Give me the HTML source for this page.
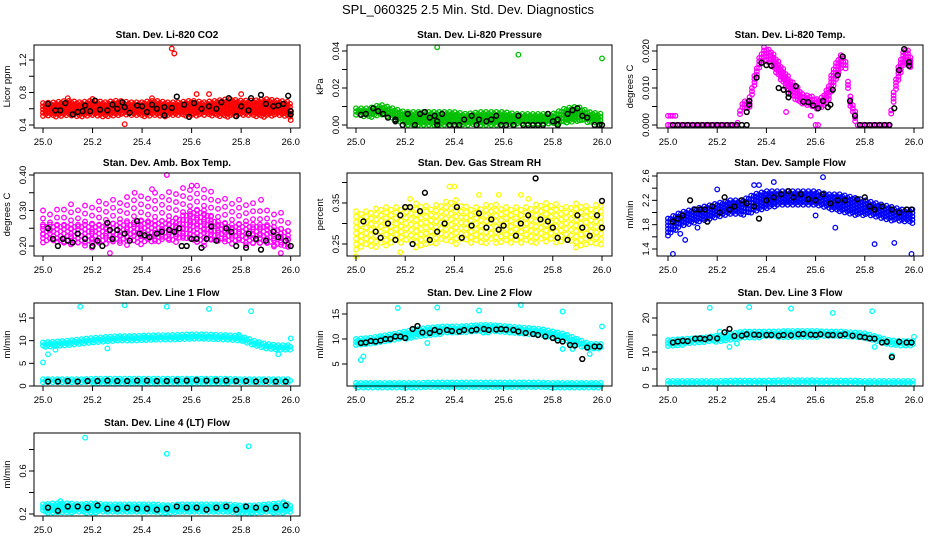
<!DOCTYPE html>
<html><head><meta charset="utf-8">
<style>
html,body{margin:0;padding:0;background:#fff;}
svg{display:block;font-family:"Liberation Sans",sans-serif;}
</style></head>
<body>
<svg id="chart" width="936" height="540" viewBox="0 0 936 540" xmlns="http://www.w3.org/2000/svg">
<rect width="936" height="540" fill="#fff"/>
<text x="468" y="14" text-anchor="middle" font-size="13">SPL_060325  2.5 Min. Std. Dev. Diagnostics</text>
</svg>
<script>
const bandT=[25.00,25.05,25.10,25.15,25.20,25.25,25.30,25.35,25.40,25.45,25.50,25.55,25.60,25.65,25.70,25.75,25.80,25.85,25.90,25.95,26.00];
const xTicks=[25.0,25.2,25.4,25.6,25.8,26.0];
const xTickLabels=["25.0","25.2","25.4","25.6","25.8","26.0"];

// CO2
const co2Lo=[0.5,0.5,0.52,0.5,0.52,0.5,0.52,0.52,0.5,0.52,0.5,0.52,0.5,0.52,0.5,0.5,0.52,0.5,0.5,0.52,0.48];
const co2Hi=[0.67,0.68,0.7,0.68,0.7,0.68,0.7,0.68,0.68,0.7,0.68,0.68,0.7,0.68,0.7,0.72,0.7,0.7,0.72,0.7,0.68];
const co2OutT=[25.52,25.53,25.33,26.0,25.62,25.67,25.8,25.1,25.2,25.44];
const co2OutV=[1.34,1.28,0.41,0.46,0.78,0.78,0.78,0.73,0.72,0.73];
const co2BlkT=[25.02,25.05,25.07,25.09,25.12,25.14,25.16,25.17,25.19,25.21,25.23,25.26,25.28,25.30,25.32,25.33,25.35,25.38,25.40,25.42,25.44,25.46,25.49,25.49,25.52,25.54,25.57,25.59,25.61,25.64,25.67,25.70,25.72,25.75,25.78,25.80,25.83,25.84,25.88,25.90,25.93,25.95,25.97,25.99,26.0,26.0];
const co2BlkV=[0.66,0.58,0.58,0.67,0.53,0.56,0.57,0.64,0.57,0.70,0.59,0.58,0.65,0.60,0.68,0.62,0.55,0.64,0.63,0.56,0.65,0.6,0.52,0.62,0.61,0.75,0.65,0.5,0.67,0.6,0.63,0.6,0.68,0.73,0.51,0.63,0.58,0.73,0.77,0.66,0.63,0.64,0.66,0.76,0.57,0.53];

// Pressure
const prLo=[0.005,0.004,0.005,0.003,0,0,0,0,0,0,0,0,0,0,0,0,0,0.001,0.002,0.001,0];
const prHi=[0.009,0.009,0.011,0.009,0.007,0.007,0.007,0.007,0.007,0.006,0.007,0.007,0.007,0.006,0.006,0.006,0.006,0.009,0.01,0.007,0.006];
const prOutT=[25.33,25.66,26.0];
const prOutV=[0.042,0.038,0.036];
const prBlkT=[25.02,25.04,25.07,25.09,25.11,25.13,25.16,25.16,25.19,25.21,25.24,25.26,25.28,25.30,25.32,25.33,25.33,25.35,25.38,25.40,25.42,25.44,25.47,25.49,25.50,25.53,25.55,25.57,25.59,25.61,25.64,25.66,25.68,25.70,25.72,25.74,25.76,25.78,25.80,25.82,25.82,25.86,25.88,25.90,25.92,25.94,25.97,25.99,26.0];
const prBlkV=[0.0055,0.006,0.009,0.0075,0.006,0.004,0.002,0.003,0,0.006,0,0.006,0.007,0.004,0.005,0.002,0,0.006,0,0,0,0.003,0.005,0,0.003,0.002,0.003,0.005,0,0,0,0.005,0,0,0,0,0,0.006,0.002,0.003,0,0.006,0.008,0.009,0.005,0.004,0,0,0];

// Li-820 Temp
const tmpBandT=[25.0,25.28,25.30,25.33,25.35,25.37,25.39,25.42,25.45,25.48,25.50,25.53,25.55,25.58,25.60,25.62,25.65,25.67,25.70,25.72,25.74,25.76,25.77,25.90,25.91,25.93,25.95,25.97,25.99];
const tmpLo=[0,0,0.004,0.004,0.01,0.015,0.018,0.016,0.013,0.01,0.008,0.006,0.005,0.005,0.004,0.004,0.006,0.01,0.015,0.016,0.005,0.001,0,0,0.004,0.01,0.015,0.017,0.015];
const tmpHi=[0,0,0.006,0.007,0.013,0.018,0.021,0.02,0.017,0.014,0.012,0.01,0.008,0.008,0.007,0.007,0.01,0.015,0.019,0.018,0.008,0.004,0,0,0.006,0.014,0.019,0.021,0.018];
const tmpOutT=[25.0,25.01,25.02,25.03,25.48,25.58,25.6,25.61];
const tmpOutV=[0.0025,0.0025,0.0025,0.0025,0.0035,0.0025,0,0];
const tmpBlkT=[25.02,25.04,25.06,25.08,25.10,25.12,25.14,25.16,25.18,25.20,25.22,25.24,25.26,25.28,25.30,25.32,25.32,25.33,25.33,25.36,25.38,25.40,25.42,25.45,25.47,25.49,25.49,25.52,25.55,25.57,25.59,25.61,25.63,25.65,25.66,25.67,25.69,25.71,25.74,25.76,25.78,25.80,25.82,25.84,25.86,25.88,25.90,25.92,25.94,25.96,25.98,25.98];
const tmpBlkV=[0,0,0,0,0,0,0,0,0,0,0,0,0,0,0,0,0.0035,0.0055,0.0065,0.0128,0.0168,0.0162,0.016,0.01,0.0095,0.0085,0.0075,0.0105,0.0063,0.0062,0.0053,0.0045,0.0065,0.0048,0.0055,0.0095,0.0135,0.0185,0.0065,0.0025,0,0,0,0,0,0,0,0.0045,0.0148,0.0205,0.017,0.016];

// Amb box temp: dense core + sparse envelope
const ambCoreLo=[0.21,0.21,0.205,0.205,0.205,0.21,0.21,0.21,0.21,0.21,0.215,0.215,0.21,0.21,0.21,0.21,0.21,0.205,0.205,0.2,0.2];
const ambCoreHi=[0.26,0.26,0.26,0.26,0.26,0.26,0.265,0.265,0.27,0.27,0.27,0.28,0.3,0.3,0.27,0.26,0.26,0.26,0.26,0.25,0.24];
const ambLo=[0.2,0.2,0.19,0.19,0.19,0.2,0.2,0.2,0.2,0.2,0.21,0.21,0.2,0.2,0.2,0.2,0.2,0.19,0.19,0.18,0.19];
const ambHi=[0.3,0.3,0.32,0.31,0.32,0.33,0.33,0.34,0.34,0.35,0.35,0.36,0.37,0.37,0.34,0.33,0.33,0.32,0.3,0.3,0.27];
const ambOutT=[25.5,25.27,25.96,25.88,25.37,25.44,25.6];
const ambOutV=[0.40,0.18,0.18,0.33,0.35,0.36,0.37];
const ambBlkT=[25.02,25.04,25.06,25.08,25.10,25.12,25.14,25.17,25.20,25.22,25.24,25.26,25.27,25.28,25.30,25.33,25.35,25.38,25.39,25.41,25.43,25.46,25.48,25.51,25.53,25.55,25.56,25.58,25.60,25.62,25.64,25.66,25.68,25.70,25.74,25.76,25.78,25.82,25.83,25.86,25.88,25.90,25.93,25.95,25.98,26.0];
const ambBlkV=[0.25,0.22,0.2,0.22,0.215,0.21,0.235,0.22,0.2,0.215,0.2,0.265,0.245,0.22,0.245,0.235,0.215,0.27,0.235,0.23,0.225,0.235,0.24,0.245,0.24,0.25,0.2,0.2,0.22,0.22,0.195,0.22,0.255,0.215,0.25,0.24,0.2,0.195,0.235,0.22,0.19,0.215,0.24,0.225,0.215,0.2];

// Gas stream RH
const rhLo=[0.23,0.24,0.24,0.25,0.25,0.24,0.25,0.25,0.25,0.25,0.25,0.25,0.25,0.25,0.25,0.25,0.25,0.25,0.24,0.25,0.24];
const rhHi=[0.33,0.33,0.34,0.34,0.34,0.35,0.34,0.35,0.36,0.34,0.34,0.35,0.34,0.34,0.34,0.35,0.35,0.34,0.35,0.34,0.35];
const rhOutT=[25.0,25.18,25.38,25.40,25.5,25.58,25.67,25.7,25.22];
const rhOutV=[0.22,0.23,0.39,0.39,0.37,0.37,0.37,0.36,0.36];
const rhBlkT=[25.03,25.08,25.10,25.13,25.16,25.18,25.20,25.22,25.23,25.26,25.28,25.30,25.33,25.36,25.41,25.43,25.47,25.50,25.53,25.55,25.58,25.60,25.65,25.67,25.70,25.73,25.75,25.78,25.80,25.82,25.86,25.90,25.92,25.95,25.98,26.0,26.0];
const rhBlkV=[0.305,0.28,0.265,0.3,0.26,0.32,0.34,0.34,0.25,0.33,0.375,0.26,0.28,0.3,0.34,0.265,0.295,0.325,0.29,0.31,0.285,0.295,0.27,0.3,0.32,0.41,0.31,0.305,0.29,0.265,0.26,0.32,0.29,0.27,0.32,0.29,0.355];

// Sample flow
const sfLo=[1.6,1.75,1.8,1.85,1.9,1.95,1.95,2.0,2.05,2.1,2.1,2.1,2.1,2.05,2.0,1.95,1.95,1.9,1.85,1.85,1.8];
const sfHi=[1.9,2.0,2.05,2.1,2.15,2.2,2.2,2.3,2.35,2.35,2.35,2.35,2.35,2.3,2.3,2.25,2.2,2.15,2.1,2.05,2.05];
const sfOutT=[25.02,25.07,25.12,25.2,25.37,25.43,25.63,25.60,25.68,25.84,25.92,25.99,25.35,25.05];
const sfOutV=[1.32,1.55,1.75,2.38,2.45,2.5,2.58,1.95,1.75,1.48,1.5,1.32,2.45,1.65];
const sfBlkT=[25.02,25.04,25.06,25.09,25.11,25.13,25.15,25.16,25.18,25.21,25.23,25.25,25.27,25.30,25.32,25.35,25.37,25.40,25.43,25.46,25.49,25.51,25.54,25.57,25.60,25.63,25.66,25.69,25.72,25.77,25.80,25.82,25.84,25.87,25.91,25.94,25.97,25.99];
const sfBlkV=[1.85,1.9,1.95,2.2,2.05,2.05,2.05,1.85,2.1,2.0,2.25,2.05,2.1,2.2,2.15,2.1,1.9,2.2,2.25,2.3,2.35,2.25,2.3,2.22,2.2,2.3,2.15,2.2,2.2,2.22,2.25,2.1,2.05,2.1,2.05,2.0,2.05,2.05];

const lineBlkT=[25.02,25.06,25.10,25.14,25.18,25.22,25.26,25.30,25.34,25.38,25.42,25.46,25.50,25.54,25.58,25.62,25.66,25.70,25.74,25.78,25.82,25.86,25.90,25.94,25.98];

// Line 1
const l1Lo=[8.3,8.5,8.8,9,9.3,9.6,9.8,10,10.1,10.2,10.2,10.3,10.3,10.3,10.2,10.1,9.8,8.8,8.2,8.0,8.0];
const l1Hi=[9.6,9.8,10.0,10.3,10.6,10.8,11,11,11.1,11.2,11.2,11.3,11.4,11.4,11.3,11.2,11.0,10,9.3,9.0,9.0];
const l1LoB=[0.6,0.6,0.6,0.6,0.6,0.6,0.6,0.6,0.6,0.6,0.6,0.6,0.6,0.6,0.6,0.6,0.6,0.6,0.6,0.6,0.6];
const l1HiB=[1.5,1.5,1.5,1.5,1.6,1.6,1.6,1.6,1.6,1.6,1.6,1.6,1.6,1.6,1.6,1.6,1.5,1.5,1.5,1.5,1.5];
const l1OutT=[25.15,25.33,25.5,25.67,25.84,25.0,25.02,25.05,25.95,26.0,25.26,25.79];
const l1OutV=[17.5,17.8,17.5,17,16.5,5.2,7,8,7,10.5,8.3,11.3];
const l1BlkV=[1.0,1.0,1.1,1.0,1.1,1.1,1.2,1.1,1.1,1.2,1.2,1.1,1.1,1.2,1.2,1.3,1.2,1.2,1.2,1.1,1.1,1.0,1.1,1.0,1.0];

// Line 2
const l2Lo=[8.8,9,9.3,9.6,10,10.5,10.8,11,11.1,11.2,11.3,11.3,11.2,11.1,10.9,10.5,10.2,9.5,8.5,8,8];
const l2Hi=[10,10.2,10.6,11,11.5,12,12.3,12.5,12.5,12.6,12.8,12.8,12.6,12.4,12.2,12,11.5,11,10,9,9];
const l2LoB=[0.3,0.3,0.3,0.3,0.3,0.3,0.3,0.3,0.3,0.3,0.3,0.3,0.3,0.3,0.3,0.3,0.3,0.3,0.3,0.3,0.3];
const l2HiB=[1.2,1.2,1.2,1.2,1.2,1.2,1.3,1.3,1.3,1.3,1.3,1.3,1.3,1.3,1.3,1.3,1.2,1.2,1.2,1.2,1.2];
const l2OutT=[25.17,25.33,25.5,25.67,25.84,26.0,25.02,25.03,25.29,25.84,25.88,25.95];
const l2OutV=[16.2,16.3,15.7,16.8,15.5,12.5,5.8,6.5,9.2,8,8,7];
const l2BlkT=[25.02,25.04,25.06,25.08,25.10,25.12,25.14,25.16,25.18,25.20,25.23,25.25,25.27,25.30,25.32,25.34,25.37,25.39,25.42,25.44,25.47,25.49,25.52,25.54,25.57,25.59,25.61,25.64,25.66,25.69,25.72,25.74,25.77,25.80,25.82,25.84,25.87,25.89,25.92,25.94,25.97,25.99];
const l2BlkV=[9.2,9.3,9.6,9.5,9.7,10,10,10.5,10.5,10.2,12,12.6,11.3,11.2,11.8,11.5,11.8,11.6,11.5,11.8,11.7,11.9,12,11.8,11.9,12,11.9,11.8,11.5,11.2,11,10.8,10.5,10.2,9.7,9.5,8.8,8.7,6,8.3,8.5,8.5];

// Line 3
const l3Lo=[11.5,12,12.3,12.6,13,13.3,13.8,14,14.3,14.3,14.4,14.4,14.4,14.3,14.3,14.2,13.8,13,12,11.5,11.5];
const l3Hi=[13.5,13.8,14,14.3,14.8,15.3,16,16,16,16.1,16.2,16.2,16.2,16,16,15.8,15.5,14.5,13.5,13.2,13.2];
const l3LoB=[0.5,0.5,0.5,0.5,0.5,0.5,0.5,0.5,0.5,0.5,0.5,0.5,0.5,0.5,0.5,0.5,0.5,0.5,0.5,0.5,0.5];
const l3HiB=[1.5,1.5,1.5,1.5,1.5,1.6,1.6,1.6,1.6,1.7,1.7,1.7,1.7,1.6,1.6,1.6,1.5,1.5,1.5,1.5,1.5];
const l3OutT=[25.17,25.33,25.5,25.67,25.83,26.0,25.25,25.28,25.84,25.91,25.21];
const l3OutV=[23,23.2,22.8,21.5,22,14.5,11.5,12.5,11.5,9,16];
const l3BlkT=[25.02,25.04,25.06,25.08,25.11,25.13,25.15,25.17,25.20,25.23,25.25,25.27,25.30,25.32,25.35,25.37,25.40,25.42,25.45,25.47,25.50,25.53,25.55,25.58,25.60,25.62,25.65,25.67,25.70,25.72,25.75,25.78,25.80,25.82,25.84,25.87,25.89,25.91,25.94,25.97,25.99];
const l3BlkV=[12.8,13.1,13.3,13.2,13.9,14,13.8,14.2,14,15.8,16.8,14.7,14.8,15.2,15.1,15,15,15,14.8,15,14.9,15.2,15.3,15.1,15,15.2,15,15,14.9,15.2,14.8,14.5,14.3,14,13.9,12.8,13,8.5,13,12.8,12.8];

// Line 4 (LT)
const l4Lo=[0.21,0.21,0.21,0.21,0.21,0.21,0.21,0.21,0.21,0.21,0.2,0.21,0.21,0.21,0.21,0.21,0.2,0.2,0.21,0.21,0.21];
const l4Hi=[0.29,0.3,0.3,0.29,0.3,0.29,0.29,0.29,0.29,0.29,0.28,0.29,0.29,0.29,0.29,0.29,0.28,0.28,0.29,0.3,0.29];
const l4OutT=[25.17,25.5,25.83,25.07,25.97];
const l4OutV=[0.91,0.76,0.83,0.32,0.31];
const l4BlkV=[0.26,0.23,0.27,0.27,0.26,0.28,0.25,0.25,0.26,0.25,0.25,0.24,0.25,0.27,0.26,0.26,0.24,0.26,0.27,0.24,0.27,0.26,0.25,0.26,0.28];

const NS="http://www.w3.org/2000/svg";
const svg=document.getElementById('chart');
function mk(tag,attrs,parent){const e=document.createElementNS(NS,tag);for(const k in attrs)e.setAttribute(k,attrs[k]);(parent||svg).appendChild(e);return e;}

const cols=[{bl:34,br:300,x0:43,x1:290.7},{bl:347,br:612,x0:356,x1:602},{bl:657,br:923,x0:668,x1:914}];
const rows=[{bt:45,bb:128},{bt:173,bb:256},{bt:303,bb:386},{bt:433,bb:516}];

function interp(ts,vs,t){if(t<=ts[0])return vs[0];for(let i=1;i<ts.length;i++){if(t<=ts[i]){const f=(t-ts[i-1])/(ts[i]-ts[i-1]);return vs[i-1]+f*(vs[i]-vs[i-1]);}}return vs[vs.length-1];}

function panel(cfg){
  const c=cols[cfg.col],r=rows[cfg.row];
  const g=mk('g',{});
  
  
  const xs=t=>c.x0+(t-25)*(c.x1-c.x0);
  const ys=v=>cfg.p1+(v-cfg.v1)*(cfg.p2-cfg.p1)/(cfg.v2-cfg.v1);
  const t1=mk('text',{x:(c.bl+c.br)/2,y:r.bt-7,'text-anchor':'middle','font-size':'10','font-weight':'bold'},g);
  t1.textContent=cfg.title;
  
  
  const col=cfg.color;
  const mg=mk('g',{fill:'none',stroke:col,'stroke-width':'1.3'},g);
  
  
  (cfg.bands||[]).forEach(b=>{
    const bt=b.t||bandT;
    const sx=b.sx||cfg.sx, sy=b.sy||cfg.sy;
    const px0=xs(bt[0]),px1=xs(bt[bt.length-1]);
    let row=0;
    for(let px=px0;px<=px1+0.01;px+=sx){
      const t=25+(px-c.x0)/(c.x1-c.x0);
      const yl=ys(interp(bt,b.lo,t)),yh=ys(interp(bt,b.hi,t));
      const off=(row%2)*sy/2;row++;
      for(let py=yh+off;py<=yl+0.01;py+=sy){
        const ci=mk('circle',{cx:px.toFixed(1),cy:py.toFixed(1),r:2.3},mg);
        
        
      }
      if(yl-yh<sy){const ci=mk('circle',{cx:px.toFixed(1),cy:yl.toFixed(1),r:2.3},mg);
        
        }
    }
  });
  cfg.outT.forEach((t,i)=>{
    const ci=mk('circle',{cx:xs(t).toFixed(1),cy:ys(cfg.outV[i]).toFixed(1),r:2.3},mg);
    
    
  });
  const kg=mk('g',{fill:'none',stroke:'#000','stroke-width':'1.5'},g);
  
  
  cfg.blkT.forEach((t,i)=>{
    const ci=mk('circle',{cx:xs(t).toFixed(1),cy:ys(cfg.blkV[i]).toFixed(1),r:2.4},kg);
    
    
  });
  const box=mk('rect',{x:c.bl,y:r.bt,width:c.br-c.bl,height:r.bb-r.bt,fill:'none',stroke:'#000','stroke-width':'1'},g);
  
  
  const xa=mk('g',{stroke:'#000','stroke-width':'1'},g);
  
  
  mk('line',{x1:xs(25),x2:xs(26),y1:r.bb,y2:r.bb},xa);
  xTicks.forEach((t,i)=>{
    mk('line',{x1:xs(t),x2:xs(t),y1:r.bb,y2:r.bb+5},xa);
    const tl=mk('text',{x:xs(t),y:r.bb+17,'text-anchor':'middle','font-size':'9.5',stroke:'none'},xa);
    tl.textContent=xTickLabels[i];
    
    
  });
  const ya=mk('g',{stroke:'#000','stroke-width':'1'},g);
  
  
  const ty=cfg.ticks;
  mk('line',{x1:c.bl,x2:c.bl,y1:ys(ty[0]),y2:ys(ty[ty.length-1])},ya);
  ty.forEach(v=>{mk('line',{x1:c.bl-5,x2:c.bl,y1:ys(v),y2:ys(v)},ya);});
  cfg.labels.forEach((lab,i)=>{
    const y=ys(cfg.labelVals[i]);
    const tl=mk('text',{x:c.bl-8,y:y,'text-anchor':'middle','font-size':'9.5',stroke:'none',transform:`rotate(-90 ${c.bl-8} ${y})`},ya);
    tl.textContent=lab;
    
    
  });
  const ymid=(r.bt+r.bb)/2,yx=c.bl-24;
  const yl=mk('text',{x:yx,y:ymid,'text-anchor':'middle','font-size':'9.5',transform:`rotate(-90 ${yx} ${ymid})`},g);
  yl.textContent=cfg.ylab;
  
  
}

panel({name:'panel-co2',title:'Stan. Dev. Li-820 CO2',col:0,row:0,color:'#ff0000',v1:0.4,p1:125,v2:1.2,p2:60,ticks:[0.4,0.6,0.8,1.0,1.2],labels:['0.4','0.8','1.2'],labelVals:[0.4,0.8,1.2],ylab:'Licor ppm',sx:2.6,sy:3.2,bands:[{lo:co2Lo,hi:co2Hi}],outT:co2OutT,outV:co2OutV,blkT:co2BlkT,blkV:co2BlkV});
panel({name:'panel-pressure',title:'Stan. Dev. Li-820 Pressure',col:1,row:0,color:'#00c000',v1:0,p1:125,v2:0.04,p2:51,ticks:[0,0.01,0.02,0.03,0.04],labels:['0.00','0.02','0.04'],labelVals:[0,0.02,0.04],ylab:'kPa',sx:2.6,sy:3.2,bands:[{lo:prLo,hi:prHi}],outT:prOutT,outV:prOutV,blkT:prBlkT,blkV:prBlkV});
panel({name:'panel-li820-temp',title:'Stan. Dev. Li-820 Temp.',col:2,row:0,color:'#ff00ff',v1:0,p1:125,v2:0.02,p2:51,ticks:[0,0.005,0.01,0.015,0.02],labels:['0.000','0.010','0.020'],labelVals:[0,0.01,0.02],ylab:'degrees C',sx:2.4,sy:3.2,bands:[{t:tmpBandT,lo:tmpLo,hi:tmpHi}],outT:tmpOutT,outV:tmpOutV,blkT:tmpBlkT,blkV:tmpBlkV});
panel({name:'panel-amb-box-temp',title:'Stan. Dev. Amb. Box Temp.',col:0,row:1,color:'#ff00ff',v1:0.2,p1:246,v2:0.4,p2:175,ticks:[0.2,0.25,0.3,0.35,0.4],labels:['0.20','0.30','0.40'],labelVals:[0.2,0.3,0.4],ylab:'degrees C',sx:7,sy:8,bands:[{lo:ambLo,hi:ambHi},{lo:ambCoreLo,hi:ambCoreHi,sx:3.5,sy:4.5}],outT:ambOutT,outV:ambOutV,blkT:ambBlkT,blkV:ambBlkV});
panel({name:'panel-gas-stream-rh',title:'Stan. Dev. Gas Stream RH',col:1,row:1,color:'#ffff00',v1:0.25,p1:244,v2:0.35,p2:203,ticks:[0.25,0.3,0.35,0.4],labels:['0.25','0.35'],labelVals:[0.25,0.35],ylab:'percent',sx:5,sy:5.5,bands:[{lo:rhLo,hi:rhHi}],outT:rhOutT,outV:rhOutV,blkT:rhBlkT,blkV:rhBlkV});
panel({name:'panel-sample-flow',title:'Stan. Dev. Sample Flow',col:2,row:1,color:'#0000ff',v1:1.4,p1:249,v2:2.6,p2:176,ticks:[1.4,1.6,1.8,2.0,2.2,2.4,2.6],labels:['1.4','1.8','2.2','2.6'],labelVals:[1.4,1.8,2.2,2.6],ylab:'ml/min',sx:2.6,sy:3.4,bands:[{lo:sfLo,hi:sfHi}],outT:sfOutT,outV:sfOutV,blkT:sfBlkT,blkV:sfBlkV});
panel({name:'panel-line1-flow',title:'Stan. Dev. Line 1 Flow',col:0,row:2,color:'#00ffff',v1:0,p1:386,v2:15,p2:318,ticks:[0,5,10,15],labels:['0','5','10','15'],labelVals:[0,5,10,15],ylab:'ml/min',sx:2.4,sy:3,bands:[{lo:l1Lo,hi:l1Hi},{lo:l1LoB,hi:l1HiB}],outT:l1OutT,outV:l1OutV,blkT:lineBlkT,blkV:l1BlkV});
panel({name:'panel-line2-flow',title:'Stan. Dev. Line 2 Flow',col:1,row:2,color:'#00ffff',v1:5,p1:364,v2:15,p2:314,ticks:[5,10,15],labels:['5','10','15'],labelVals:[5,10,15],ylab:'ml/min',sx:2.4,sy:3,bands:[{lo:l2Lo,hi:l2Hi},{lo:l2LoB,hi:l2HiB}],outT:l2OutT,outV:l2OutV,blkT:l2BlkT,blkV:l2BlkV});
panel({name:'panel-line3-flow',title:'Stan. Dev. Line 3 Flow',col:2,row:2,color:'#00ffff',v1:10,p1:352,v2:20,p2:318,ticks:[0,5,10,15,20],labels:['0','5','10','20'],labelVals:[0,5,10,20],ylab:'ml/min',sx:2.4,sy:3,bands:[{lo:l3Lo,hi:l3Hi},{lo:l3LoB,hi:l3HiB}],outT:l3OutT,outV:l3OutV,blkT:l3BlkT,blkV:l3BlkV});
panel({name:'panel-line4-lt-flow',title:'Stan. Dev. Line 4 (LT) Flow',col:0,row:3,color:'#00ffff',v1:0.2,p1:514,v2:0.6,p2:471,ticks:[0.2,0.4,0.6,0.8],labels:['0.2','0.6'],labelVals:[0.2,0.6],ylab:'ml/min',sx:2.4,sy:3,bands:[{lo:l4Lo,hi:l4Hi}],outT:l4OutT,outV:l4OutV,blkT:lineBlkT,blkV:l4BlkV});
</script>
</body></html>
